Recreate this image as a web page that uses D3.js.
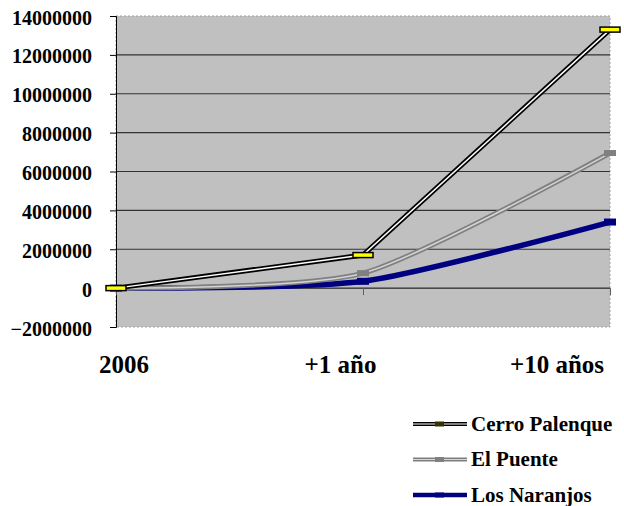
<!DOCTYPE html>
<html>
<head>
<meta charset="utf-8">
<script src="https://cdn.jsdelivr.net/npm/d3@7"></script>
<style>
  body { margin: 0; background: #fff; }
  svg text { font-family: "Liberation Serif", Tinos, "Times New Roman", Times, "Nimbus Roman", "DejaVu Serif", serif !important; font-weight: bold; fill: #000; }
</style>
</head>
<body>
<div id="chart"></div>
<script>
var categories = ["2006", "+1 año", "+10 años"];
var cerroPalenque = [0, 1700000, 13300000];
var elPuente = [0, 770000, 6950000];
var losNaranjos = [0, 350000, 3400000];
var yTicks = [-2000000, 0, 2000000, 4000000, 6000000, 8000000, 10000000, 12000000, 14000000];

var series = [
    { name: "Cerro Palenque", values: cerroPalenque, outer: "#000000", outerW: 5, inner: "#ffffff", innerW: 1.5,
      smooth: false, mFill: "#ffff00", mStroke: "#000000", mW: 20, mH: 5 },
    { name: "El Puente", values: elPuente, outer: "#808080", outerW: 5, inner: "#d4d4d4", innerW: 1.5,
      smooth: true, mFill: "#808080", mStroke: "none", mW: 12, mH: 6 },
    { name: "Los Naranjos", values: losNaranjos, outer: "#000080", outerW: 5.5, inner: null, innerW: 0,
      smooth: true, mFill: "#000080", mStroke: "none", mW: 12, mH: 7 }
];

var chart = {
    left: 116, right: 610, plotTop: 16, plotBottom: 327,

    draw: function() {
        var c = chart;
        var svg = d3.select("#chart").append("svg")
            .attr("width", 624)
            .attr("height", 506);

        var x = d3.scalePoint().domain(categories).range([c.left, c.right]);
        var xLabel = d3.scalePoint().domain(categories).range([124, 557]);
        var y = d3.scaleLinear().domain([-2000000, 14000000]).range([c.plotBottom, c.plotTop]);

        // plot area
        svg.append("rect")
            .attr("x", c.left).attr("y", c.plotTop)
            .attr("width", c.right - c.left).attr("height", c.plotBottom - c.plotTop)
            .attr("fill", "#c0c0c0")
            .attr("stroke", "#a0a0a0")
            .attr("stroke-dasharray", "2,2");

        // gridlines
        svg.append("g").selectAll("line")
            .data(yTicks.filter(function(d){ return d > 0 && d < 14000000; }))
            .enter().append("line")
            .attr("x1", c.left).attr("x2", c.right)
            .attr("y1", function(d){ return y(d); })
            .attr("y2", function(d){ return y(d); })
            .attr("stroke", "#333")
            .attr("stroke-width", 1.2);

        // y axis
        var yAxis = d3.axisLeft(y).tickValues(yTicks).tickSize(6).tickFormat(d3.format("d"));
        var gy = svg.append("g").attr("transform", "translate(" + c.left + ",0)").call(yAxis);
        gy.attr("font-family", null);
        gy.select(".domain").attr("stroke", "#000");
        gy.selectAll(".tick line").attr("stroke", "#000");
        gy.selectAll(".tick text")
            .attr("x", -24)
            .attr("dy", "0.4em")
            .style("font-size", "20px")
            .attr("fill", "#000");

        // category axis at zero
        var xAxis = d3.axisBottom(x).tickSize(7).tickFormat("");
        var gx = svg.append("g").attr("transform", "translate(0," + y(0) + ")").call(xAxis);
        gx.select(".domain").attr("stroke", "#000").attr("d", "M" + c.left + ",0H" + c.right);
        gx.selectAll(".tick line").attr("stroke", "#606060");

        svg.append("g").selectAll("text")
            .data(categories)
            .enter().append("text")
            .attr("x", function(d){ return xLabel(d); })
            .attr("y", 373)
            .attr("text-anchor", "middle")
            .style("font-size", "25px")
            .text(function(d){ return d; });

        // lines
        var plot = svg.append("g");
        series.slice().reverse().forEach(function(s) {
            var line = d3.line()
                .x(function(d, i){ return x(categories[i]); })
                .y(function(d){ return y(d); })
                .curve(s.smooth ? d3.curveCardinal.tension(0.3) : d3.curveLinear);
            plot.append("path")
                .attr("d", line(s.values))
                .attr("fill", "none")
                .attr("stroke", s.outer)
                .attr("stroke-width", s.outerW);
            if (s.inner) {
                plot.append("path")
                    .attr("d", line(s.values))
                    .attr("fill", "none")
                    .attr("stroke", s.inner)
                    .attr("stroke-width", s.innerW);
            }
        });
        series.slice().reverse().forEach(function(s) {
            plot.append("g").selectAll("rect")
                .data(s.values)
                .enter().append("rect")
                .attr("x", function(d, i){ return x(categories[i]) - s.mW / 2; })
                .attr("y", function(d){ return y(d) - s.mH / 2; })
                .attr("width", s.mW)
                .attr("height", s.mH)
                .attr("fill", s.mFill)
                .attr("stroke", s.mStroke)
                .attr("stroke-width", 1.5);
        });

        // legend
        var legend = svg.append("g").selectAll("g")
            .data(series)
            .enter().append("g")
            .attr("transform", function(d, i){ return "translate(413," + (424 + i * 35.5) + ")"; });

        legend.append("line")
            .attr("x1", 0).attr("x2", 54)
            .attr("stroke", function(d){ return d.outer; })
            .attr("stroke-width", function(d){ return d.outerW - 1; });
        legend.filter(function(d){ return d.inner; }).append("line")
            .attr("x1", 0).attr("x2", 54)
            .attr("stroke", function(d){ return d.inner; })
            .attr("stroke-width", 1.2);
        legend.append("rect")
            .attr("x", 22).attr("y", -2.5)
            .attr("width", 9).attr("height", 5)
            .attr("fill", function(d, i){ return i === 0 ? "#333300" : d.mFill; });
        legend.append("text")
            .attr("x", 58)
            .attr("dy", "0.33em")
            .style("font-size", "21px")
            .text(function(d){ return d.name; });
    }
};

chart.draw();
</script>
</body>
</html>
